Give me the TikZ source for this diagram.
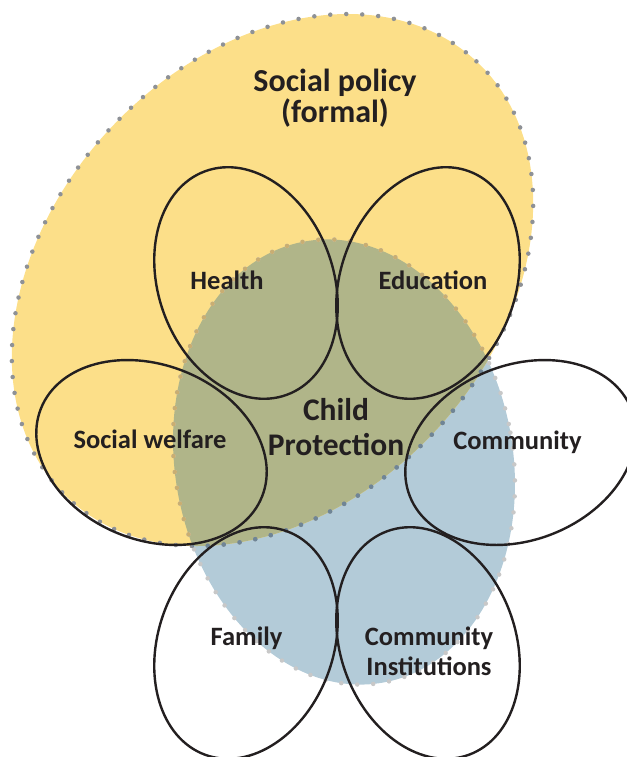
\documentclass[tikz,border=0pt]{standalone}
\usepackage{fontspec}
\setmainfont{Carlito}
\definecolor{policyyellow}{HTML}{FCDF89}
\definecolor{protectblue}{HTML}{B3CBD8}
\definecolor{overlapolive}{HTML}{B0B589}
\definecolor{dotgray}{HTML}{8E9196}
\definecolor{dotslate}{HTML}{6F8596}
\definecolor{dotlight}{HTML}{C8C8C8}
\definecolor{dottan}{HTML}{C9AE72}
\definecolor{inkblack}{HTML}{231F20}
\tikzset{
  dotline/.style={line width=4.5pt,line cap=round,dash pattern=on 0pt off 16pt},
  petal/.style={draw=inkblack,line width=2.4pt},
  tag/.style={anchor=base,align=center,text=inkblack,font=\fontsize{26.5}{30}\selectfont\bfseries},
  bigtag/.style={tag,font=\fontsize{31.5}{35}\selectfont\bfseries},
}
\begin{document}
\begin{tikzpicture}[x=1pt,y=-1pt,line join=bevel]
\useasboundingbox (0,0) rectangle (626,757);
%%
\def\policyarea{(272.5,280) ellipse [x radius=299, y radius=222, rotate=47]}
\def\protectarea{(344,462) ellipse [x radius=169, y radius=224, rotate=10]}
\fill[protectblue] \protectarea;
\fill[policyyellow] \policyarea;
\begin{scope}
  \clip \policyarea;
  \fill[overlapolive] \protectarea;
\end{scope}
\draw[dotline,dotlight] \protectarea;
\begin{scope}
  \clip \policyarea;
  \draw[dotline,dottan] \protectarea;
\end{scope}
\draw[dotline,dotgray] \policyarea;
\begin{scope}
  \clip \protectarea;
  \draw[dotline,dotslate] \policyarea;
\end{scope}
%%
\coordinate (health) at (246,283);
\coordinate (education) at (428,283);
\coordinate (welfare) at (151.5,452.5);
\coordinate (community) at (520.5,452.5);
\coordinate (family) at (246,643);
\coordinate (institutions) at (428,643);
\draw[petal] (health) ellipse [x radius=87.5, y radius=119, rotate=20];
\draw[petal] (education) ellipse [x radius=87.5, y radius=119, rotate=-20];
\draw[petal] (welfare) ellipse [x radius=119, y radius=87.5, rotate=-21.7];
\draw[petal] (community) ellipse [x radius=119, y radius=87.5, rotate=21.7];
\draw[petal] (family) ellipse [x radius=87.5, y radius=119, rotate=-20];
\draw[petal] (institutions) ellipse [x radius=87.5, y radius=119, rotate=20];
%%
\node[bigtag,font=\fontsize{32}{31.5}\selectfont\bfseries] (policy_label) at (335,123) {Social policy\\(formal)};
\node[bigtag] (protection_label) at (336,455) {Child\\Protection};
\node[tag] (health_label) at (227,289) {Health};
\node[tag] (education_label) at (433,289) {Education};
\node[tag] (welfare_label) at (150,448) {Social welfare};
\node[tag] (community_label) at (517.5,449) {Community};
\node[tag] (family_label) at (246.5,645) {Family};
\node[tag] (institutions_label) at (429,675) {Community\\Institutions};
%
\end{tikzpicture}
\end{document}
